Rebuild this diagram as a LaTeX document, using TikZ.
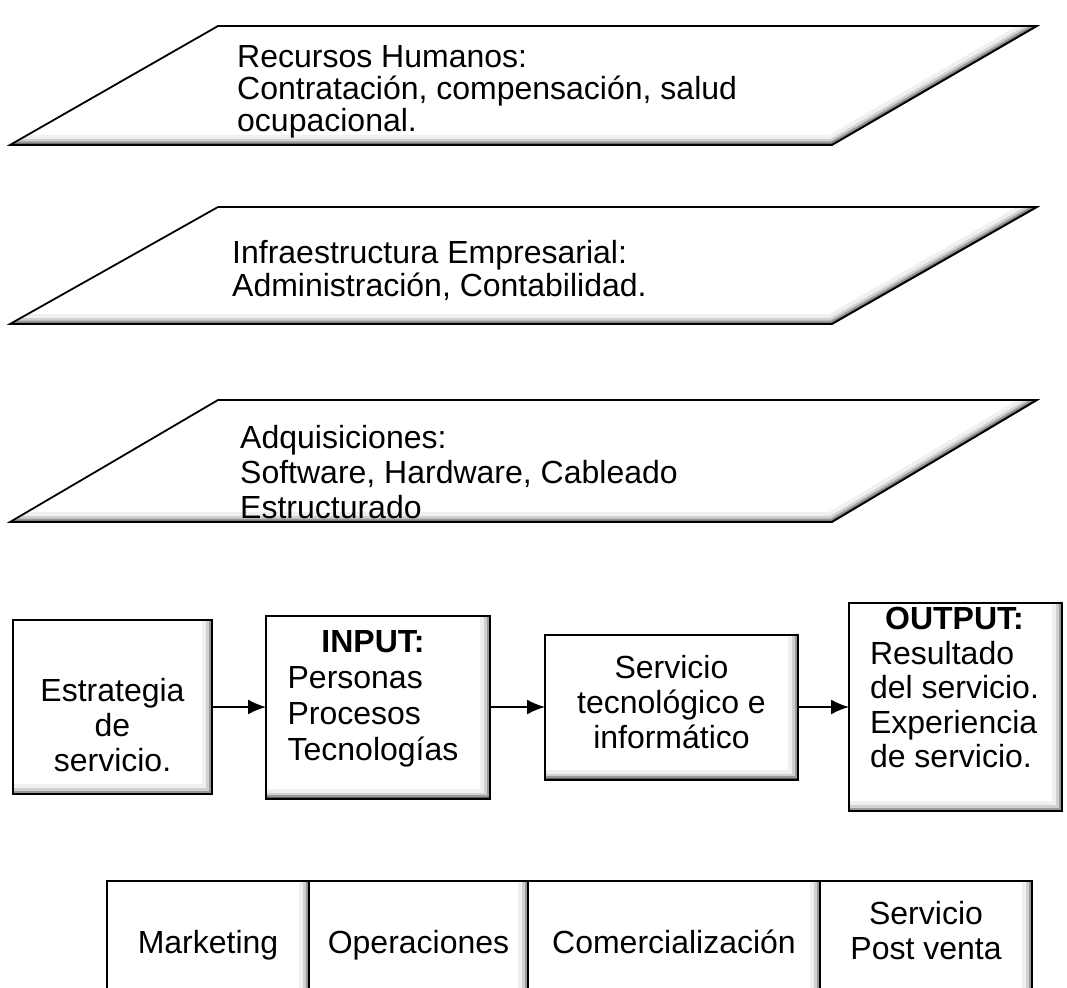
\documentclass[tikz,border=0pt]{standalone}
\usepackage{fontspec}
\setmainfont{Liberation Sans}
\usepackage{tikz}
\usetikzlibrary{calc,positioning,arrows.meta}

\tikzset{
  bisel/.style={path picture={
    \draw[black!6, line width=20pt] (path picture bounding box.south west) -- (path picture bounding box.south east) -- (path picture bounding box.north east);
    \draw[black!18, line width=12pt] (path picture bounding box.south west) -- (path picture bounding box.south east) -- (path picture bounding box.north east);
    \draw[black!40, line width=7pt] (path picture bounding box.south west) -- (path picture bounding box.south east) -- (path picture bounding box.north east);
    \draw[black!65, line width=3pt] (path picture bounding box.south west) -- (path picture bounding box.south east) -- (path picture bounding box.north east);
  }},
  caja/.style={draw, line width=2pt, fill=white, inner sep=0pt, outer sep=0pt, bisel},
  texto/.style={font=\fontsize{32}{35}\selectfont, inner sep=0pt, align=center},
  celdatexto/.style={texto, text height=24pt, text depth=7pt},
  flecha/.style={-{Latex[length=18pt,width=15pt]}, line width=1.8pt},
}

\begin{document}
\begin{tikzpicture}[x=1pt,y=-1pt]
    \clip (0,0) rectangle (1067,987);
    \fill[white] (0,0) rectangle (1067,987);

    % bandas de apoyo
    \foreach \n/\yt/\yb in {rh/26/145, ie/207/324, ad/400/522}{
        \coordinate (\n-tl) at (218,\yt);
        \coordinate (\n-tr) at (1037,\yt);
        \coordinate (\n-br) at (832,\yb);
        \coordinate (\n-bl) at (10,\yb);
        \fill[white] (\n-tl) -- (\n-tr) -- (\n-br) -- (\n-bl) -- cycle;
        \begin{scope}
            \clip (\n-tl) -- (\n-tr) -- (\n-br) -- (\n-bl) -- cycle;
            \draw[black!6, line width=20pt] (\n-bl) -- (\n-br) -- (\n-tr);
            \draw[black!18, line width=12pt] (\n-bl) -- (\n-br) -- (\n-tr);
            \draw[black!40, line width=7pt] (\n-bl) -- (\n-br) -- (\n-tr);
            \draw[black!65, line width=3pt] (\n-bl) -- (\n-br) -- (\n-tr);
        \end{scope}
        \draw[line width=1.8pt] (\n-tl) -- (\n-tr) -- (\n-br) -- (\n-bl) -- cycle;
    }
    \node[texto, align=left, anchor=west, font=\fontsize{32}{32}\selectfont] (trh) at (237,92)
        {Recursos Humanos:\\Contratación, compensación, salud\\ocupacional.};
    \node[texto, align=left, anchor=west, font=\fontsize{32}{33}\selectfont] (tie) at (232,270)
        {Infraestructura Empresarial:\\Administración, Contabilidad.};
    \node[texto, align=left, anchor=west, font=\fontsize{32}{35}\selectfont] (tad) at (240,472)
        {Adquisiciones:\\Software, Hardware, Cableado\\Estructurado};

    % cadena de valor
    \node[caja, minimum width=199pt, minimum height=174pt] (estr) at (112.5,707) {};
    \node[caja, minimum width=224pt, minimum height=183pt, right=54pt of estr] (inp) {};
    \node[caja, minimum width=253pt, minimum height=145pt, right=55pt of inp] (serv) {};
    \node[caja, minimum width=213pt, minimum height=208pt, right=51pt of serv] (outp) {};

    \node[texto] (testr) at ($(estr)+(0,18)$) {Estrategia\\de\\servicio.};
    \node[texto, font=\fontsize{32}{36}\selectfont] (tinp) at ($(inp)+(-5,-8)$)
        {\begin{tabular}{@{}l@{}}\multicolumn{1}{@{}c@{}}{\textbf{INPUT:}}\\Personas\\Procesos\\Tecnologías\end{tabular}};
    \node[texto] (tserv) at ($(serv)+(0,-5)$) {Servicio\\tecnológico e\\informático};
    \node[texto, font=\fontsize{32}{34.5}\selectfont] (toutp) at ($(outp)+(-1,-15)$)
        {\begin{tabular}{@{}l@{}}\multicolumn{1}{@{}c@{}}{\textbf{OUTPUT:}}\\Resultado\\del servicio.\\Experiencia\\de servicio.\end{tabular}};

    \draw[flecha] (estr.east) -- (inp.west);
    \draw[flecha] (inp.east) -- (serv.west);
    \draw[flecha] (serv.east) -- (outp.west);

    % actividades primarias
    \node[caja, minimum width=202pt, minimum height=128pt] (mark) at (208,945) {};
    \node[caja, minimum width=219pt, minimum height=128pt, right=0pt of mark] (oper) {};
    \node[caja, minimum width=292pt, minimum height=128pt, right=0pt of oper] (com) {};
    \node[caja, minimum width=212pt, minimum height=128pt, right=0pt of com] (post) {};

    \node[celdatexto] (tmark) at (mark) {Marketing};
    \node[celdatexto] (toper) at (oper) {Operaciones};
    \node[celdatexto] (tcom) at (com) {Comercialización};
    \node[texto] (tpost) at ($(post)+(0,-14)$) {Servicio\\Post venta};
\end{tikzpicture}
\end{document}
